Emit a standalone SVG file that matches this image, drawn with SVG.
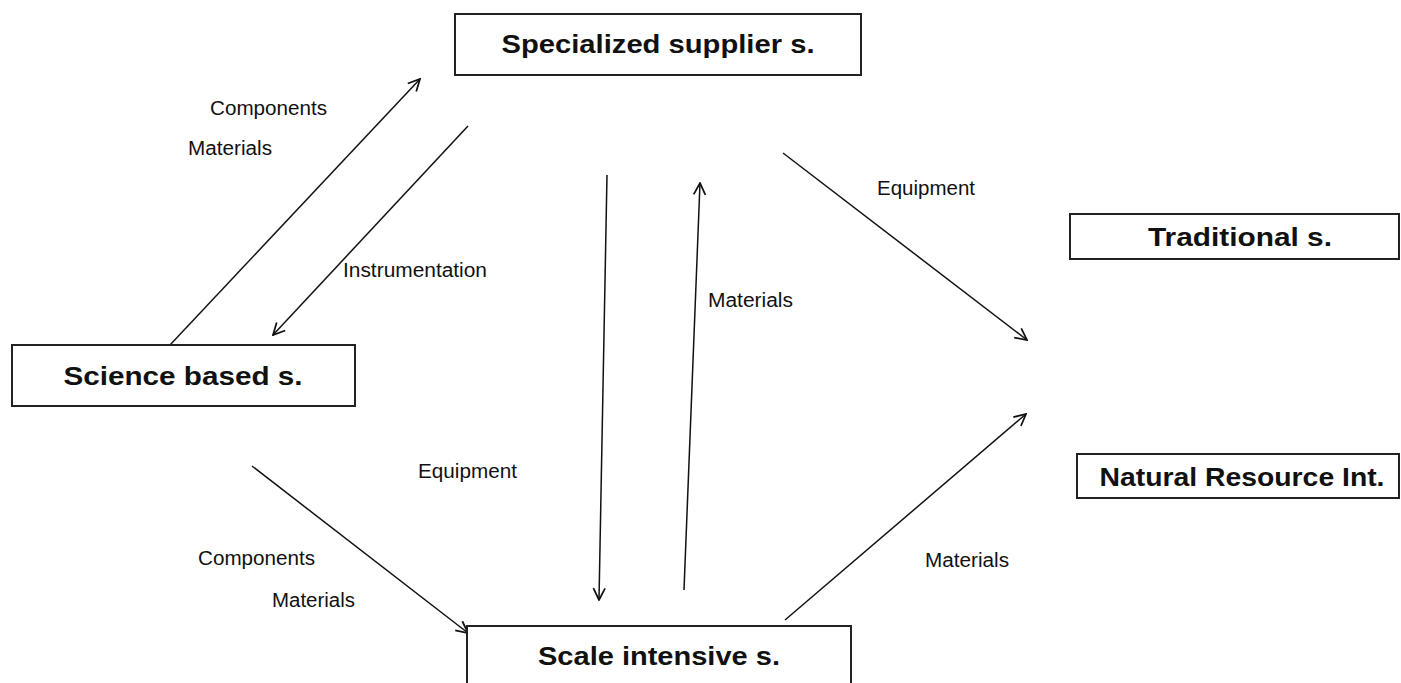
<svg xmlns="http://www.w3.org/2000/svg" width="1401" height="683" viewBox="0 0 1401 683">
<style>
.box{fill:#fff;stroke:#222;stroke-width:2}
.nt{font-family:"Liberation Sans",Arial,sans-serif;font-weight:bold;font-size:26px;fill:#111;text-anchor:middle}
.lb{font-family:"Liberation Sans",Arial,sans-serif;font-size:20px;fill:#111}
.cn{fill:none;stroke:#111;stroke-width:1.5}
</style>
<defs>
<marker id="ah" viewBox="0 0 12 12" refX="11" refY="6" markerWidth="14" markerHeight="14" markerUnits="userSpaceOnUse" orient="auto">
<path d="M1,1 L11,6 L1,11" fill="none" stroke="#111" stroke-width="1.5"/>
</marker>
</defs>
<rect width="1401" height="683" fill="#fff"/>
<g id="connectors">
<line class="cn" x1="170" y1="345" x2="420" y2="79" marker-end="url(#ah)"/>
<line class="cn" x1="468" y1="126" x2="273" y2="335" marker-end="url(#ah)"/>
<line class="cn" x1="607" y1="175" x2="599" y2="600" marker-end="url(#ah)"/>
<line class="cn" x1="684" y1="590" x2="700" y2="183" marker-end="url(#ah)"/>
<line class="cn" x1="783" y1="153" x2="1027" y2="340" marker-end="url(#ah)"/>
<line class="cn" x1="785" y1="620" x2="1026" y2="414" marker-end="url(#ah)"/>
<line class="cn" x1="252" y1="466" x2="468" y2="633" marker-end="url(#ah)"/>
</g>
<g id="node-specialized">
<rect class="box" x="455" y="14" width="406" height="61"/>
<text class="nt" x="658" y="53" textLength="313" lengthAdjust="spacingAndGlyphs">Specialized supplier s.</text>
</g>
<g id="node-science">
<rect class="box" x="12" y="345" width="343" height="61"/>
<text class="nt" x="183" y="385" textLength="239" lengthAdjust="spacingAndGlyphs">Science based s.</text>
</g>
<g id="node-traditional">
<rect class="box" x="1070" y="214" width="329" height="45"/>
<text class="nt" x="1240" y="246" textLength="184" lengthAdjust="spacingAndGlyphs">Traditional s.</text>
</g>
<g id="node-natural">
<rect class="box" x="1077" y="454" width="322" height="44"/>
<text class="nt" x="1242" y="486" textLength="285" lengthAdjust="spacingAndGlyphs">Natural Resource Int.</text>
</g>
<g id="node-scale">
<rect class="box" x="467" y="626" width="384" height="70"/>
<text class="nt" x="659" y="665" textLength="242" lengthAdjust="spacingAndGlyphs">Scale intensive s.</text>
</g>
<g id="labels">
<text class="lb" x="210" y="115" textLength="117" lengthAdjust="spacingAndGlyphs">Components</text>
<text class="lb" x="188" y="155" textLength="84" lengthAdjust="spacingAndGlyphs">Materials</text>
<text class="lb" x="343" y="277" textLength="144" lengthAdjust="spacingAndGlyphs">Instrumentation</text>
<text class="lb" x="708" y="307" textLength="85" lengthAdjust="spacingAndGlyphs">Materials</text>
<text class="lb" x="877" y="195" textLength="98" lengthAdjust="spacingAndGlyphs">Equipment</text>
<text class="lb" x="418" y="478" textLength="99" lengthAdjust="spacingAndGlyphs">Equipment</text>
<text class="lb" x="198" y="565" textLength="117" lengthAdjust="spacingAndGlyphs">Components</text>
<text class="lb" x="272" y="607" textLength="83" lengthAdjust="spacingAndGlyphs">Materials</text>
<text class="lb" x="925" y="567" textLength="84" lengthAdjust="spacingAndGlyphs">Materials</text>
</g>
</svg>
